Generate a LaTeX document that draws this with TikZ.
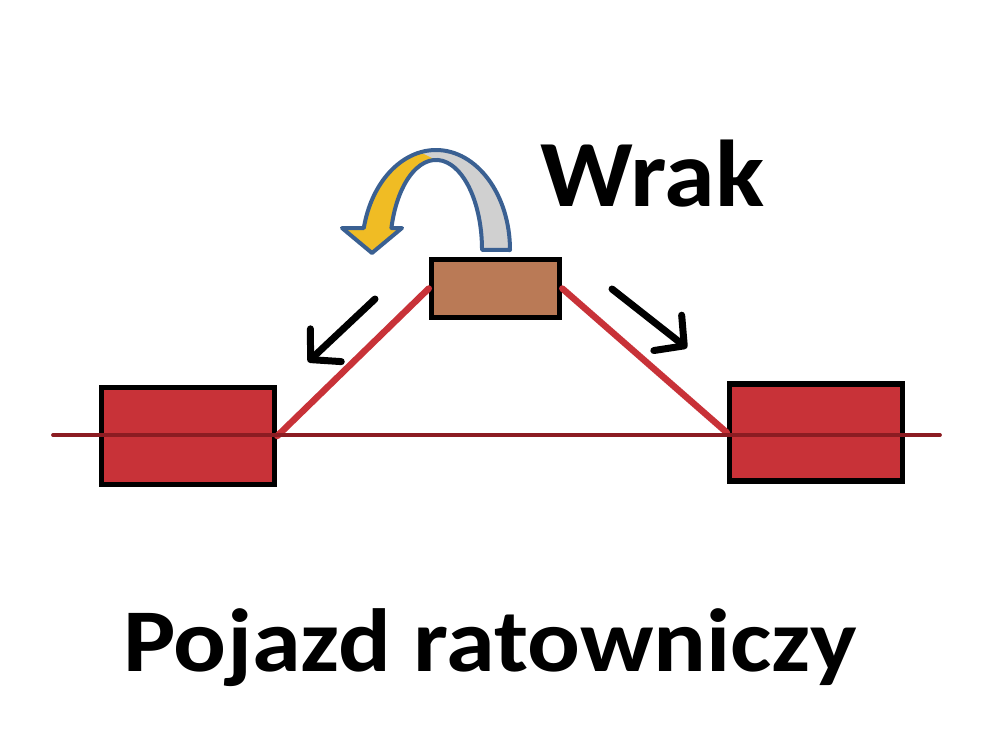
\documentclass[tikz,border=0pt]{standalone}
\usepackage{fontspec}
\newfontfamily\napisy{Carlito}
\usetikzlibrary{arrows.meta}
\definecolor{wagon}{RGB}{200,50,56}
\definecolor{szyna}{RGB}{140,28,34}
\definecolor{brazowy}{RGB}{186,122,86}
\definecolor{obrys}{RGB}{58,96,146}
\definecolor{zloty}{RGB}{240,188,36}
\definecolor{szary}{RGB}{208,208,208}
\tikzset{
  pojazd/.style={draw=black, line width=0.11cm, fill=wagon, minimum width=3.46cm, minimum height=1.94cm, inner sep=0pt},
  wrakbox/.style={draw=black, line width=0.11cm, fill=brazowy, minimum width=2.56cm, minimum height=1.16cm, inner sep=0pt},
  lina/.style={wagon, line width=0.13cm, line cap=round},
  tor/.style={szyna, line width=0.075cm, line cap=round},
  ruch/.style={black, line width=0.14cm, line cap=round, -{Straight Barb[length=0.42cm,width=0.9cm,round]}},
  napis/.style={inner sep=0pt, anchor=base}
}
\begin{document}
\begin{tikzpicture}[x=0.02cm, y=-0.02cm]
    \useasboundingbox (0,0) rectangle (1000,747);
    \coordinate (torL) at (53,435);
    \coordinate (torP) at (940,435);
    \node [pojazd] (lewy) at (188,436) {};
    \node [pojazd] (prawy) at (816,432.5) {};
    \node [wrakbox] (wrak) at (495.5,288.5) {};
    \draw [lina] (lewy.east) -- (wrak.west);
    \draw [lina] (wrak.east) -- (prawy.west);
    \draw [tor] (torL) -- (torP);
    \coordinate (ruchL0) at (375,299);
    \coordinate (ruchL1) at (308,362);
    \coordinate (ruchP0) at (612,289);
    \coordinate (ruchP1) at (687,348);
    \draw [ruch] (ruchL0) -- (ruchL1);
    \draw [ruch] (ruchP0) -- (ruchP1);
    \fill [zloty] (510,250) arc (0:-167.3:74 and 100) -- (342,228) -- (372,253) -- (402,228) -- (391.4,228) arc (-165.9:0:46 and 90) -- cycle;
    \fill [szary] (510,250) arc (0:-102:74 and 100) -- (436,160) arc (-90:0:46 and 90) -- cycle;
    \draw [obrys, line width=0.08cm, line join=round] (510,250) arc (0:-167.3:74 and 100) -- (342,228) -- (372,253) -- (402,228) -- (391.4,228) arc (-165.9:0:46 and 90) -- cycle;
    \node [napis, font=\napisy\bfseries\fontsize{54}{60}\selectfont, xscale=1.08] (tytul) at (652.5,206) {Wrak};
    \node [napis, font=\napisy\bfseries\fontsize{51}{60}\selectfont, xscale=1.1] (podpis) at (490,671) {Pojazd ratowniczy};
\end{tikzpicture}
\end{document}
